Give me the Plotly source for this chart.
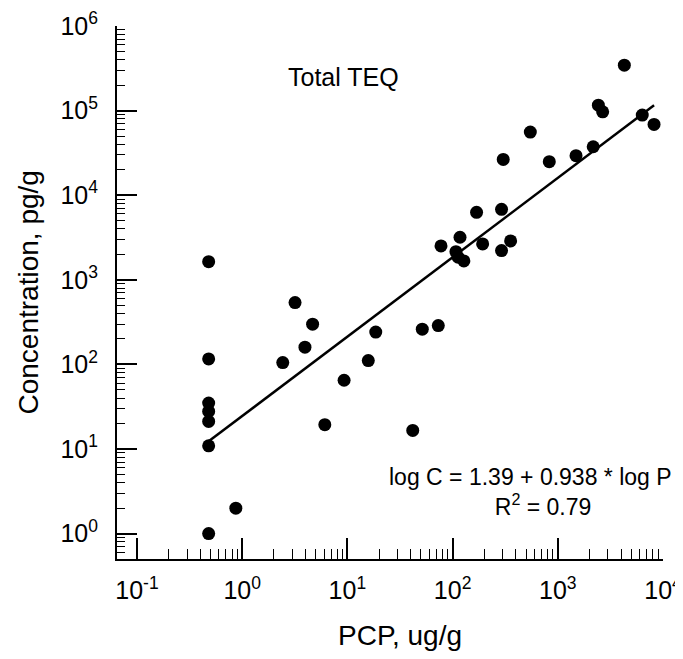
import math
import plotly.graph_objects as go

# PCP (ug/g) vs Total TEQ concentration (pg/g)
pcp = [0.48, 0.48, 0.48, 0.48, 0.48, 0.48, 0.48, 0.87,
       2.43, 3.18, 3.95, 4.67, 6.1, 9.3, 15.8, 18.6,
       41.8, 51.5, 73.1, 77.6, 107.6, 113, 117.6, 128,
       169, 193, 292, 292, 303, 356, 548, 830,
       1490, 2170, 2430, 2670, 4290, 6350, 8220]
teq = [1.0, 10.9, 21.2, 27.8, 34.9, 116, 1640, 2.0,
       105, 538, 160, 299, 19.4, 65, 111, 241,
       16.6, 261, 288, 2512, 2153, 1849, 3184, 1672,
       6280, 2654, 6810, 2213, 26500, 2879, 55700, 24900,
       29300, 37400, 116000, 96800, 344000, 88500, 68700]

# regression shown on the chart: log C = a + b * log P
fit_a = 1.39
fit_b = 0.938
fit_r2 = 0.79

x_decades = [0.1, 1, 10, 100, 1000, 10000]
x_labels = ["10<sup>-1</sup>", "10<sup>0</sup>", "10<sup>1</sup>",
            "10<sup>2</sup>", "10<sup>3</sup>", "10<sup>4</sup>"]
y_decades = [1, 10, 100, 1000, 10000, 100000, 1000000]
y_labels = ["10<sup>0</sup>", "10<sup>1</sup>", "10<sup>2</sup>", "10<sup>3</sup>",
            "10<sup>4</sup>", "10<sup>5</sup>", "10<sup>6</sup>"]

FONT = "Liberation Sans, Arial, sans-serif"
INK = "#000000"
NBSP = "\u00a0"

# minor ticks 2..9 in each decade
x_minor = [m * d for d in x_decades[:-1] for m in range(2, 10)]
y_minor = [m * d for d in [0.1] + y_decades[:-1] for m in range(2, 10) if m * d >= 0.5]

fit_x = [min(pcp), max(pcp)]
fit_y = [10 ** (fit_a + fit_b * math.log10(v)) for v in fit_x]

fig = go.Figure()
fig.add_trace(go.Scatter(
    x=fit_x, y=fit_y, mode="lines",
    line=dict(color=INK, width=2.5),
    showlegend=False, hoverinfo="skip",
))
fig.add_trace(go.Scatter(
    x=pcp, y=teq, mode="markers",
    marker=dict(color=INK, size=13, line=dict(width=0)),
    showlegend=False, cliponaxis=False,
))

# in-plot labels
fig.add_annotation(text="Total TEQ", xref="paper", yref="paper",
                   x=0.415, y=0.905, xanchor="center", yanchor="middle",
                   showarrow=False, font=dict(size=25, color=INK, family=FONT))
fig.add_annotation(
    text=f"log C = {fit_a} + {fit_b} * log P<br>{NBSP * 4}R<sup>2</sup> = {fit_r2}",
    xref="paper", yref="paper", x=0.758, y=0.126,
    xanchor="center", yanchor="middle", align="center",
    showarrow=False, font=dict(size=23, color=INK, family=FONT),
)

# axis titles
fig.add_annotation(text="PCP, ug/g", xref="paper", yref="paper",
                   x=0.518, y=-0.143, xanchor="center", yanchor="middle",
                   showarrow=False, font=dict(size=28, color=INK, family=FONT))
fig.add_annotation(text="Concentration, pg/g", xref="paper", yref="paper",
                   x=-0.163, y=0.5, xanchor="center", yanchor="middle",
                   textangle=-90, showarrow=False,
                   font=dict(size=28, color=INK, family=FONT))

# page body adds 8px around the plot div, so the figure is a bit smaller
fig.update_layout(
    width=675, height=651,
    margin=dict(l=109, r=20, t=18, b=100),
    paper_bgcolor="white", plot_bgcolor="white",
    font=dict(family=FONT, color=INK),
    xaxis=dict(
        type="log", range=[-1.19, 4.0], automargin=False,
        showgrid=False, zeroline=False,
        showline=True, linecolor=INK, linewidth=2,
        ticks="inside", ticklen=21, tickwidth=1.5, tickcolor=INK,
        tickmode="array", tickvals=x_decades, ticktext=x_labels,
        tickfont=dict(size=25, family=FONT, color=INK), ticklabelstandoff=8,
        minor=dict(tickmode="array", tickvals=x_minor, ticks="inside",
                   ticklen=10, tickwidth=1.2, tickcolor=INK, showgrid=False),
    ),
    yaxis=dict(
        type="log", range=[-0.3, 6.0], automargin=False,
        showgrid=False, zeroline=False,
        showline=True, linecolor=INK, linewidth=2,
        ticks="inside", ticklen=20, tickwidth=1.5, tickcolor=INK,
        tickmode="array", tickvals=y_decades, ticktext=y_labels,
        tickfont=dict(size=25, family=FONT, color=INK), ticklabelstandoff=12,
        minor=dict(tickmode="array", tickvals=y_minor, ticks="inside",
                   ticklen=8, tickwidth=1.2, tickcolor=INK, showgrid=False),
    ),
)

fig.write_html("out.html")
